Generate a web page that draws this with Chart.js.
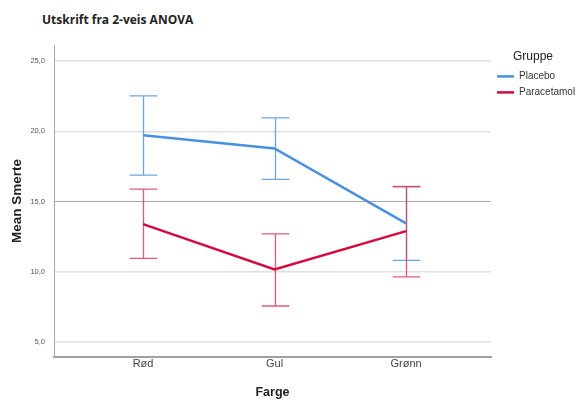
<!DOCTYPE html>
<html>
<head>
<meta charset="utf-8">
<script src="https://cdn.jsdelivr.net/npm/chart.js@4/dist/chart.umd.min.js"></script>
<style>
  html, body { margin: 0; padding: 0; background: #fff; }
  #wrap { position: relative; width: 575px; height: 400px; }
  #title {
    position: absolute; left: 42px; top: 11px; margin: 0;
    font: bold 12px "Open Sans", "Liberation Sans", sans-serif; color: #222;
  }
  canvas { position: absolute; left: 0; top: 0; }
</style>
</head>
<body>
<div id="wrap">
  <h1 id="title">Utskrift fra 2-veis ANOVA</h1>
  <canvas id="anovaChart" width="575" height="400"></canvas>
</div>
<script>
// data
const categories = ['Rød', 'Gul', 'Grønn'];
const groups = ['Placebo', 'Paracetamol'];
const placeboMean = [19.72, 18.78, 13.44];
const placeboLow = [16.88, 16.57, 10.81];
const placeboHigh = [22.52, 20.95, 16.07];
const paracetamolMean = [13.39, 10.17, 12.89];
const paracetamolLow = [10.95, 7.56, 9.64];
const paracetamolHigh = [15.88, 12.70, 16.05];
const yTicks = [5, 10, 15, 20, 25];

const lineColors = ['#4a90e2', '#d5093c'];
const barColors = ['rgba(90,155,232,0.9)', 'rgba(221,60,100,0.85)'];

function toPoints(values) {
  return values.map((v, i) => ({ x: i, y: v }));
}

const errorBars = [
  { low: placeboLow, high: placeboHigh },
  { low: paracetamolLow, high: paracetamolHigh },
];

// draws the CI whiskers using the chart scales
const errorBarPlugin = {
  id: 'errorBars',
  beforeDatasetsDraw(chart) {
    const ctx = chart.ctx;
    const xs = chart.scales.x;
    const ys = chart.scales.y;
    const capHalf = xs.getPixelForValue(0.105) - xs.getPixelForValue(0);
    ctx.save();
    errorBars.forEach((bars, d) => {
      ctx.strokeStyle = barColors[d];
      ctx.lineWidth = 1.3;
      for (let i = 0; i < categories.length; i++) {
        const x = Math.round(xs.getPixelForValue(i)) + 0.5;
        const yl = ys.getPixelForValue(bars.low[i]);
        const yh = ys.getPixelForValue(bars.high[i]);
        ctx.beginPath();
        ctx.moveTo(x, yl);
        ctx.lineTo(x, yh);
        ctx.moveTo(x - capHalf, yl);
        ctx.lineTo(x + capHalf, yl);
        ctx.moveTo(x - capHalf, yh);
        ctx.lineTo(x + capHalf, yh);
        ctx.stroke();
      }
    });
    ctx.restore();
  }
};

const ctx = document.getElementById('anovaChart').getContext('2d');

const chart = new Chart(ctx, {
  type: 'line',
  data: {
    datasets: [
      {
        label: groups[0],
        data: toPoints(placeboMean),
        borderColor: lineColors[0],
        backgroundColor: lineColors[0],
        borderWidth: 2.5,
        pointRadius: 0,
        tension: 0,
      },
      {
        label: groups[1],
        data: toPoints(paracetamolMean),
        borderColor: lineColors[1],
        backgroundColor: lineColors[1],
        borderWidth: 2.5,
        pointRadius: 0,
        tension: 0,
      },
    ],
  },
  options: {
    responsive: false,
    animation: false,
    layout: { padding: { top: 45, right: 0, bottom: 0, left: 0 } },
    plugins: {
      tooltip: { enabled: false },
      legend: {
        position: 'right',
        align: 'start',
        maxWidth: 84,
        title: {
          display: true,
          text: 'Gruppe',
          color: '#222',
          font: { family: 'Liberation Sans', size: 12 },
          padding: { top: 6, bottom: 0 },
        },
        labels: {
          color: '#333',
          font: { family: 'Liberation Sans', size: 10 },
          usePointStyle: true,
          pointStyle: 'line',
          pointStyleWidth: 17,
          padding: 6,
        },
      },
    },
    scales: {
      x: {
        type: 'linear',
        min: -0.677,
        max: 2.646,
        afterBuildTicks(scale) {
          scale.ticks = categories.map((c, i) => ({ value: i }));
        },
        afterFit(scale) { scale.height = 43; },
        ticks: {
          callback: (v) => categories[v],
          color: '#444',
          font: { family: 'Liberation Sans', size: 11 },
          padding: 0,
        },
        grid: { display: false, drawTicks: false },
        border: { color: '#a0a0a0', width: 2 },
        title: {
          display: true,
          text: 'Farge',
          color: '#222',
          font: { family: 'Liberation Sans', size: 12.5, weight: 'bold' },
          padding: { top: 4, bottom: 0 },
        },
      },
      y: {
        min: 3.93,
        max: 26.14,
        afterBuildTicks(scale) {
          scale.ticks = yTicks.map(v => ({ value: v }));
        },
        afterFit(scale) { scale.width = 54; },
        ticks: {
          callback: (v) => v.toFixed(1).replace('.', ','),
          color: '#555',
          font: { family: '"Liberation Sans Narrow", "Liberation Sans"', size: 7.5 },
          padding: 9,
        },
        grid: {
          drawTicks: false,
          color: (c) => (c.tick && c.tick.value === 15 ? '#a8a8a8' : '#e0e0e0'),
          lineWidth: (c) => (c.tick && c.tick.value === 15 ? 1 : 1.5),
        },
        border: { color: '#a8a8a8', width: 1 },
        title: {
          display: true,
          text: 'Mean Smerte',
          color: '#222',
          font: { family: 'Liberation Sans', size: 13.5, weight: 'bold' },
          padding: { top: 9, bottom: 0 },
        },
      },
    },
  },
  plugins: [errorBarPlugin],
});
</script>
</body>
</html>
